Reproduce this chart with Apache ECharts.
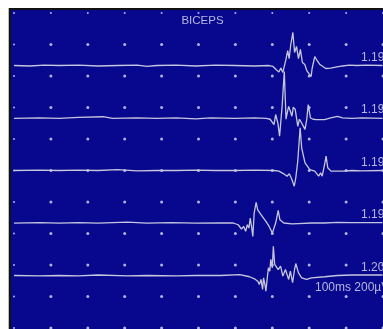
<!DOCTYPE html>
<html><head><meta charset="utf-8">
<script src="https://cdn.jsdelivr.net/npm/echarts@6/dist/echarts.min.js"></script>
<style>html,body{margin:0;padding:0;background:#fff;overflow:hidden}#c{width:383px;height:329px}</style>
</head><body><div id="c"></div><script>
const title = 'BICEPS';
const traceLabels = ['1.19', '1.19', '1.19', '1.19', '1.20'];
const scaleText = '100ms 200µV';
const xTicks = [0, 10, 20, 30, 40, 50, 60, 70, 80, 90, 100];
const yTicks = [0, 1, 2, 3, 4, 5, 6, 7, 8, 9, 10];
const traceOffsets = [8.333, 6.667, 5, 3.333, 1.667];
const uVperDiv = 200;

// Trace 1 (time ms, amplitude µV)
const t1 = [0,4.24,8.21,12.19,17.48,22.78,28.08,33.38,36.03,38.68,43.97,49.27,54.57,59.87,65.17,69.14,70.2,71.0,71.79,72.32,72.85,73.64,74.17,74.57,74.97,75.58,76.03,76.56,77.09,77.62,78.15,78.81,79.34,79.74,80.53,80.79,81.51,82.12,82.91,84.5,85.83,87.15,89.01,90.86,92.98,95.63,99.87];
const v1 = [0,-3,3,0,3,-3,0,3,-6,0,3,-3,3,0,-3,0,-6,-25,-41,-16,-44,32,95,44,127,210,83,121,44,102,19,6,-32,-44,-70,-19,57,32,6,-19,-16,-10,-3,3,0,3,0];
// Trace 2
const t2 = [0,6.89,12.19,17.48,24.11,26.75,33.38,38.68,43.97,49.27,53.25,59.87,65.17,68.34,69.4,70.46,70.91,71.52,71.97,72.66,73.25,73.72,74.04,74.44,74.89,75.31,75.68,76.21,76.9,77.35,77.96,78.86,79.34,79.74,80.34,81.06,81.93,84.16,85.83,87.68,89.01,91.66,94.3,99.87];
const v2 = [-2,1,-2,4,8,-2,1,-2,1,-5,1,-2,1,-2,-8,-42,22,-34,-116,74,295,-8,32,74,43,11,68,55,-53,-8,-32,-72,-8,85,0,-8,-10,-10,0,11,1,-2,1,-2];
// Trace 3
const t3 = [0,6.89,12.19,17.48,22.78,28.08,33.38,38.68,43.97,49.27,54.57,59.87,65.17,70.46,71.79,73.11,73.99,74.62,75.31,75.95,76.37,76.9,77.54,77.96,78.86,80.19,81.51,82.57,83.1,83.52,84.16,84.58,85.03,85.91,89.01,91.66,94.3,99.87];
const v3 = [0,3,0,3,0,6,-3,0,0,3,0,0,3,0,-4,-21,-36,-21,-57,-100,-46,59,271,144,49,6,-4,-36,-15,-36,38,91,17,-4,-4,0,-3,0];
// Trace 4
const t4 = [0,6.89,12.19,17.48,22.78,30.73,36.03,42.65,49.27,55.89,59.42,60.74,61.64,62.25,62.78,63.23,63.66,64.03,64.37,64.72,65.09,65.62,66.04,66.94,68.26,69.14,70.01,70.46,70.91,71.6,72.05,73.11,75.31,77.09,80.61,84.16,87.68,91.66,99.87];
const v4 = [-1,2,-1,2,-1,5,-1,2,-1,0,0,-11,-38,-22,-53,-11,-32,32,-22,-85,64,131,84,53,10,-22,-64,-53,0,80,21,0,-6,-4,0,0,4,2,2];
// Trace 5
const t5 = [0,6.89,12.19,17.48,22.78,30.73,36.03,43.97,49.27,55.89,61.19,63.84,65.17,66.04,66.49,66.94,67.36,67.63,68.08,68.26,68.69,68.95,69.32,69.59,70.01,70.28,70.65,71.07,71.6,72.24,72.85,73.56,74.44,74.89,75.5,76.03,76.37,77.09,77.96,79.29,80.61,84.16,87.68,91.66,99.87];
const v5 = [0,-3,0,-3,3,-3,0,-3,0,0,6,-8,-21,-36,-57,-25,-89,-15,-68,-100,-4,49,27,102,49,186,70,81,38,59,-4,38,-25,27,-46,38,76,17,-15,-25,-15,-8,0,3,3];

const times = [t1, t2, t3, t4, t5];
const values = [v1, v2, v3, v4, v5];

const traceColor = '#c6c6de';
const textColor = '#b6b6de';
const dotColor = '#dcdcf8';

const dots = [];
xTicks.forEach(x => yTicks.forEach(y => dots.push([x, y])));

const series = [{
  type: 'scatter', data: dots, silent: true, z: 1,
  symbol: 'circle',
  symbolSize: d => (d[0] === xTicks[0] || d[1] === yTicks[yTicks.length - 1]) ? 2 : 3,
  itemStyle: { color: dotColor }
}];
times.forEach((ts, i) => {
  series.push({
    type: 'line', showSymbol: false, silent: true, z: 3,
    data: ts.map((t, j) => [t, traceOffsets[i] + values[i][j] / uVperDiv]),
    lineStyle: { color: traceColor, width: 1.3 }
  });
});

const chart = echarts.init(document.getElementById('c'), null, { renderer: 'canvas' });
chart.setOption({
  animation: false,
  backgroundColor: '#ffffff',
  grid: { left: 14, top: 13, width: 377.5, height: 315 },
  xAxis: { type: 'value', min: 0, max: 100, interval: 10, show: false },
  yAxis: { type: 'value', min: 0, max: 10, interval: 1, show: false },
  series: series
});

const font = '"Liberation Sans", Arial, sans-serif';
const graphics = [
  { type: 'rect', z: -10, shape: { x: 8, y: 8, width: 1, height: 321 }, style: { fill: '#bdbdab' } },
  { type: 'rect', z: -10, shape: { x: 9, y: 8, width: 374, height: 321 }, style: { fill: '#111111' } },
  { type: 'rect', z: -9, shape: { x: 11, y: 10, width: 372, height: 319 }, style: { fill: '#08088e' } },
  { type: 'text', z: 100, x: 202.5, y: 21, style: { text: title, fill: textColor, font: '11.5px ' + font, textAlign: 'center', textVerticalAlign: 'middle' } }
];
traceLabels.forEach((lab, i) => {
  const p = chart.convertToPixel({ gridIndex: 0 }, [0, traceOffsets[i]]);
  graphics.push({ type: 'text', z: 100, x: 361, y: p[1] - 8, style: { text: lab, fill: textColor, font: '12px ' + font, textAlign: 'left', textVerticalAlign: 'middle' } });
});
const pS = chart.convertToPixel({ gridIndex: 0 }, [0, traceOffsets[4]]);
graphics.push({ type: 'text', z: 100, x: 315, y: pS[1] + 12.5, style: { text: scaleText, fill: textColor, font: '12px ' + font, textAlign: 'left', textVerticalAlign: 'middle' } });
chart.setOption({ graphic: graphics });
</script></body></html>
